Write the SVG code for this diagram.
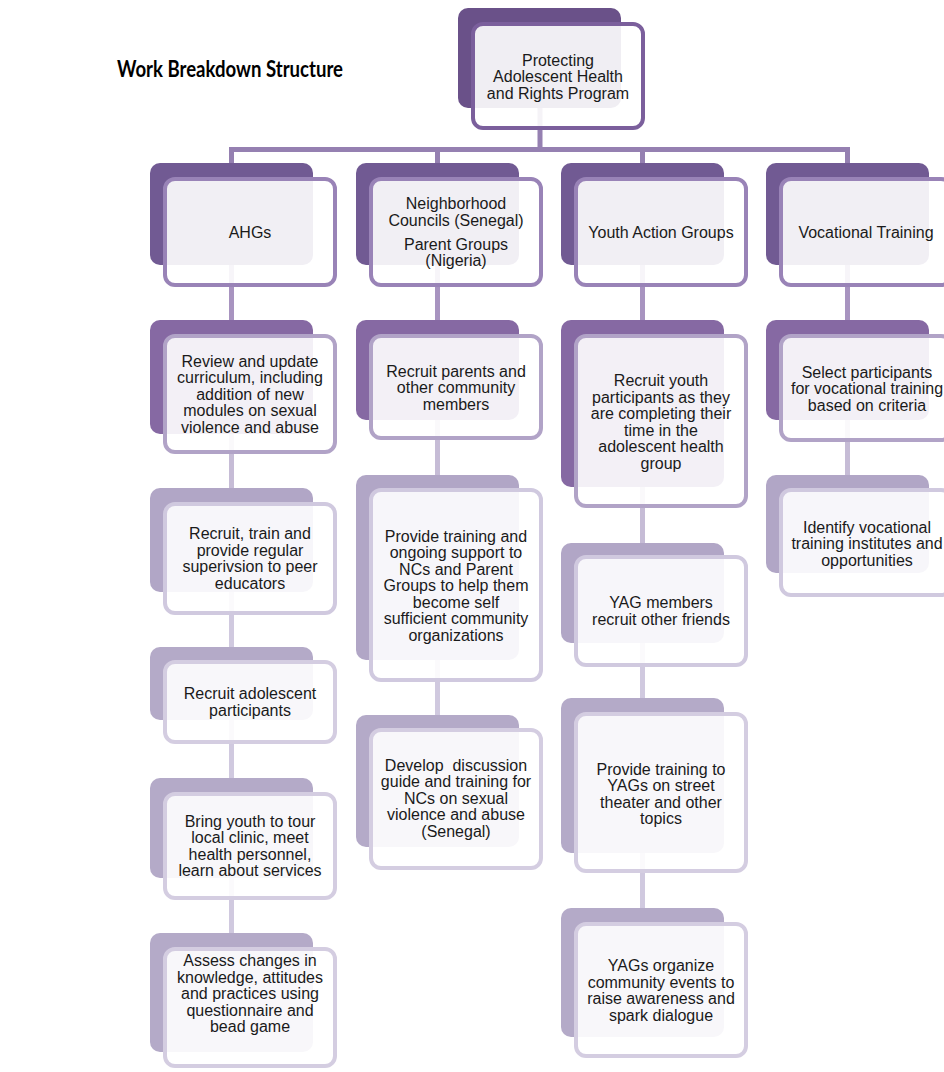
<svg xmlns="http://www.w3.org/2000/svg" width="944" height="1072" viewBox="0 0 944 1072">
<style>
.t{font-family:"Liberation Sans",Arial,sans-serif;font-size:16px;fill:#1a1a1a;text-anchor:middle}
.title{font-family:Lato,"Open Sans",sans-serif;font-weight:700;font-size:23px;fill:#000}
.fr{fill:#fff;fill-opacity:0.9;stroke-width:4}
.b0{fill:#6a5189}.s0{stroke:#7b5f9c}
.b1{fill:#715a93}.s1{stroke:#9983b7}
.b2{fill:#8669a3}.s2{stroke:#b1a3c7}
.b3{fill:#b1a6c6}.s3{stroke:#d0c9df}
.b4{fill:#b4aac8}.s4{stroke:#d4cde1}
.c{fill:none;stroke-width:5}
.c0{stroke:#9580b1}.c1{stroke:#a894c0}.c2{stroke:#c6bcd6}.c3{stroke:#d0c9df}
</style>
<text class="title" x="117" y="77" textLength="226" lengthAdjust="spacingAndGlyphs">Work Breakdown Structure</text>
<g id="connectors">
<path class="c c0" d="M540 108V149.5M231.5 149.5H847.5M231.5 147V163M437.5 149.5V163M642.5 149.5V163M847.5 147V163"/>
<path class="c c1" d="M231.5 265V320M437.5 265V320M642.5 265V320M847.5 265V320"/>
<path class="c c2" d="M231.5 434V488M437.5 420V475M642.5 487V543M847.5 420V475"/>
<path class="c c3" d="M231.5 592V647M231.5 720V778M231.5 878V933M437.5 660V715M642.5 643V698M642.5 853V908"/>
</g>
<g id="root">
<rect class="b0" x="458" y="8" width="163" height="100" rx="10"/>
<rect class="fr s0" x="473" y="24" width="170" height="104" rx="10"/>
<text class="t" x="558"><tspan x="558" y="65.5">Protecting</tspan><tspan x="558" y="82">Adolescent Health</tspan><tspan x="558" y="98.5">and Rights Program</tspan></text>
</g>
<g id="ahgs">
<rect class="b1" x="150" y="163" width="163" height="102" rx="10"/>
<rect class="fr s1" x="165" y="179" width="170" height="106" rx="10"/>
<text class="t" x="250" y="237.5">AHGs</text>
</g>
<g id="nc">
<rect class="b1" x="356" y="163" width="163" height="102" rx="10"/>
<rect class="fr s1" x="371" y="179" width="170" height="106" rx="10"/>
<text class="t"><tspan x="456" y="208.5">Neighborhood</tspan><tspan x="456" y="225.5">Councils (Senegal)</tspan><tspan x="456" y="249.5">Parent Groups</tspan><tspan x="456" y="265.5">(Nigeria)</tspan></text>
</g>
<g id="yag">
<rect class="b1" x="561" y="163" width="163" height="102" rx="10"/>
<rect class="fr s1" x="576" y="179" width="170" height="106" rx="10"/>
<text class="t" x="661" y="237.5">Youth Action Groups</text>
</g>
<g id="vt">
<rect class="b1" x="766" y="163" width="163" height="102" rx="10"/>
<rect class="fr s1" x="781" y="179" width="170" height="106" rx="10"/>
<text class="t" x="866" y="237.5">Vocational Training</text>
</g>
<g id="ahg-review">
<rect class="b2" x="150" y="320" width="163" height="114" rx="10"/>
<rect class="fr s2" x="165" y="336" width="170" height="116" rx="10"/>
<text class="t"><tspan x="250" y="366.5">Review and update</tspan><tspan x="250" y="383">curriculum, including</tspan><tspan x="250" y="399.5">addition of new</tspan><tspan x="250" y="416">modules on sexual</tspan><tspan x="250" y="432.5">violence and abuse</tspan></text>
</g>
<g id="ahg-train">
<rect class="b3" x="150" y="488" width="163" height="104" rx="10"/>
<rect class="fr s3" x="165" y="504" width="170" height="109" rx="10"/>
<text class="t"><tspan x="250" y="539.25">Recruit, train and</tspan><tspan x="250" y="555.75">provide regular</tspan><tspan x="250" y="572.25">superivsion to peer</tspan><tspan x="250" y="588.75">educators</tspan></text>
</g>
<g id="ahg-recruit">
<rect class="b4" x="150" y="647" width="163" height="73" rx="10"/>
<rect class="fr s4" x="165" y="662" width="170" height="80" rx="10"/>
<text class="t"><tspan x="250" y="699.25">Recruit adolescent</tspan><tspan x="250" y="715.75">participants</tspan></text>
</g>
<g id="ahg-clinic">
<rect class="b4" x="150" y="778" width="163" height="100" rx="10"/>
<rect class="fr s4" x="165" y="794" width="170" height="104" rx="10"/>
<text class="t"><tspan x="250" y="826.75">Bring youth to tour</tspan><tspan x="250" y="843.25">local clinic, meet</tspan><tspan x="250" y="859.75">health personnel,</tspan><tspan x="250" y="876.25">learn about services</tspan></text>
</g>
<g id="ahg-assess">
<rect class="b4" x="150" y="933" width="163" height="119" rx="10"/>
<rect class="fr s4" x="165" y="949" width="170" height="117" rx="10"/>
<text class="t"><tspan x="250" y="966">Assess changes in</tspan><tspan x="250" y="982.5">knowledge, attitudes</tspan><tspan x="250" y="999">and practices using</tspan><tspan x="250" y="1015.5">questionnaire and</tspan><tspan x="250" y="1032">bead game</tspan></text>
</g>
<g id="nc-recruit">
<rect class="b2" x="356" y="320" width="163" height="100" rx="10"/>
<rect class="fr s2" x="371" y="336" width="170" height="102" rx="10"/>
<text class="t"><tspan x="456" y="376.5">Recruit parents and</tspan><tspan x="456" y="393">other community</tspan><tspan x="456" y="409.5">members</tspan></text>
</g>
<g id="nc-support">
<rect class="b3" x="356" y="475" width="163" height="185" rx="10"/>
<rect class="fr s3" x="371" y="490" width="170" height="190" rx="10"/>
<text class="t"><tspan x="456" y="541.5">Provide training and</tspan><tspan x="456" y="558">ongoing support to</tspan><tspan x="456" y="574.5">NCs and Parent</tspan><tspan x="456" y="591">Groups to help them</tspan><tspan x="456" y="607.5">become self</tspan><tspan x="456" y="624">sufficient community</tspan><tspan x="456" y="640.5">organizations</tspan></text>
</g>
<g id="nc-guide">
<rect class="b4" x="356" y="715" width="163" height="132" rx="10"/>
<rect class="fr s4" x="371" y="730" width="170" height="138" rx="10"/>
<text class="t" xml:space="preserve"><tspan x="456" y="770.5">Develop  discussion</tspan><tspan x="456" y="787">guide and training for</tspan><tspan x="456" y="803.5">NCs on sexual</tspan><tspan x="456" y="820">violence and abuse</tspan><tspan x="456" y="836.5">(Senegal)</tspan></text>
</g>
<g id="yag-recruit">
<rect class="b2" x="561" y="320" width="163" height="167" rx="10"/>
<rect class="fr s2" x="576" y="336" width="170" height="170" rx="10"/>
<text class="t"><tspan x="661" y="386">Recruit youth</tspan><tspan x="661" y="402.5">participants as they</tspan><tspan x="661" y="419">are completing their</tspan><tspan x="661" y="435.5">time in the</tspan><tspan x="661" y="452">adolescent health</tspan><tspan x="661" y="468.5">group</tspan></text>
</g>
<g id="yag-friends">
<rect class="b3" x="561" y="543" width="163" height="100" rx="10"/>
<rect class="fr s3" x="576" y="557" width="170" height="108" rx="10"/>
<text class="t"><tspan x="661" y="608.25">YAG members</tspan><tspan x="661" y="624.75">recruit other friends</tspan></text>
</g>
<g id="yag-theater">
<rect class="b4" x="561" y="698" width="163" height="155" rx="10"/>
<rect class="fr s4" x="576" y="714" width="170" height="157" rx="10"/>
<text class="t"><tspan x="661" y="774.75">Provide training to</tspan><tspan x="661" y="791.25">YAGs on street</tspan><tspan x="661" y="807.75">theater and other</tspan><tspan x="661" y="824.25">topics</tspan></text>
</g>
<g id="yag-events">
<rect class="b4" x="561" y="908" width="163" height="129" rx="10"/>
<rect class="fr s4" x="576" y="924" width="170" height="132" rx="10"/>
<text class="t"><tspan x="661" y="971.25">YAGs organize</tspan><tspan x="661" y="987.75">community events to</tspan><tspan x="661" y="1004.25">raise awareness and</tspan><tspan x="661" y="1020.75">spark dialogue</tspan></text>
</g>
<g id="vt-select">
<rect class="b2" x="766" y="320" width="163" height="100" rx="10"/>
<rect class="fr s2" x="781" y="336" width="170" height="104" rx="10"/>
<text class="t"><tspan x="867" y="377.5">Select participants</tspan><tspan x="867" y="394">for vocational training</tspan><tspan x="867" y="410.5">based on criteria</tspan></text>
</g>
<g id="vt-identify">
<rect class="b3" x="766" y="475" width="163" height="98" rx="10"/>
<rect class="fr s3" x="781" y="490" width="170" height="105" rx="10"/>
<text class="t"><tspan x="867" y="532.5">Identify vocational</tspan><tspan x="867" y="549">training institutes and</tspan><tspan x="867" y="565.5">opportunities</tspan></text>
</g>
</svg>
